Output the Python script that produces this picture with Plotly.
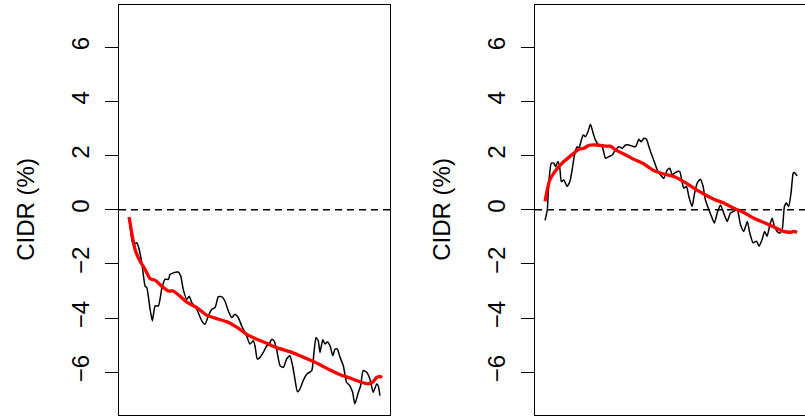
import plotly.graph_objects as go

# ---------------- data (time as % of sample period, CIDR in %) ----------------
left_t = [0, 1.1, 1.7, 3.1, 3.7, 5.1, 6.4, 7.1, 8.4, 9.3, 10.4, 11.7, 13.0, 14.3, 15.7,
          16.3, 17.6, 19.6, 20.6, 21.6, 23.0, 24.0, 25.0, 27.0, 29.0, 30.3, 31.6, 32.9,
          34.3, 35.6, 36.9, 38.2, 39.6, 40.9, 42.2, 43.5, 44.9, 46.2, 47.1, 48.2, 49.5,
          50.2, 51.1, 52.2, 53.5, 54.9, 55.8, 56.9, 57.8, 58.8, 60.2, 61.5, 62.8, 64.1,
          65.2, 66.1, 67.1, 68.1, 69.4, 70.8, 72.8, 73.7, 74.5, 75.4, 76.1, 77.2, 78.1,
          79.0, 80.1, 81.2, 82.1, 83.0, 84.1, 85.4, 86.7, 88.0, 89.1, 90.0, 91.4, 92.3,
          93.3, 94.7, 96.0, 97.3, 98.7, 99.3, 100]
left_cidr = [-0.3, -1.1, -1.29, -1.22, -1.35, -1.96, -2.82, -2.88, -3.68, -4.1, -3.55,
             -3.55, -2.94, -2.57, -2.57, -2.39, -2.33, -2.3, -2.45, -2.94, -3.31, -3.19,
             -3.43, -3.68, -4.1, -4.23, -3.92, -3.68, -3.61, -3.21, -3.21, -3.37, -3.74,
             -3.98, -3.86, -3.98, -4.29, -4.53, -4.72, -4.96, -4.84, -5.02, -5.51, -5.45,
             -5.27, -5.02, -4.96, -4.78, -4.84, -5.15, -5.76, -5.82, -5.51, -5.39, -5.76,
             -6.25, -6.72, -6.62, -6.31, -6.07, -5.94, -5.27, -4.72, -4.84, -5.27, -4.8,
             -4.96, -4.88, -5.02, -5.39, -5.15, -5.15, -5.45, -5.76, -6.37, -6.5, -6.74,
             -7.17, -6.74, -6.5, -5.94, -6.0, -6.25, -6.74, -6.43, -6.5, -6.86]
left_trend_t = [0, 1.1, 2.4, 4.4, 6.4, 8.4, 10.4, 13.0, 15.7, 17.6, 20.3, 23.0, 27.0, 31.0,
                34.9, 38.9, 42.9, 46.9, 50.9, 54.9, 58.8, 64.1, 68.1, 72.1, 76.1, 80.1,
                84.1, 88.0, 92.0, 95.3, 97.3, 98.7, 100, 100.7]
left_trend = [-0.27, -0.86, -1.47, -1.9, -2.2, -2.55, -2.6, -2.82, -3.0, -3.0, -3.19, -3.41,
              -3.61, -3.9, -4.02, -4.13, -4.33, -4.6, -4.78, -4.93, -5.09, -5.24, -5.39,
              -5.55, -5.72, -5.92, -6.09, -6.21, -6.35, -6.43, -6.35, -6.19, -6.15, -6.21]

right_t = [0, 0.9, 1.5, 2.5, 3.5, 4.2, 5.1, 5.9, 6.5, 7.5, 8.8, 9.9, 10.8, 11.5, 12.2, 12.8,
           13.5, 14.1, 15.2, 16.1, 17.1, 18.1, 19.2, 20.1, 21.4, 22.8, 24.1, 25.4, 26.8,
           28.1, 29.4, 30.8, 32.1, 33.4, 34.7, 36.1, 37.4, 38.3, 39.4, 40.4, 41.4, 42.3,
           43.3, 44.7, 46.0, 47.3, 48.7, 49.7, 50.7, 51.6, 52.7, 53.7, 54.7, 55.3, 56.4,
           57.3, 58.6, 59.6, 60.6, 61.9, 63.0, 63.9, 65.3, 66.6, 67.5, 68.6, 69.9, 71.2,
           72.6, 73.9, 75.2, 76.6, 77.9, 79.2, 80.6, 81.6, 82.9, 84.3, 85.3, 86.5, 87.5,
           88.5, 89.6, 90.5, 91.4, 92.5, 93.5, 94.5, 95.4, 96.2, 97.1, 98.1, 98.9, 99.4, 100.5]
right_cidr = [-0.39, 0, 0.98, 1.72, 1.72, 1.59, 1.78, 1.53, 1.04, 1.1, 0.86, 1.04, 1.47, 1.9,
              2.21, 2.33, 2.27, 2.45, 2.76, 2.7, 2.88, 3.16, 2.82, 2.57, 2.39, 2.33, 1.9,
              1.96, 2.02, 2.21, 2.33, 2.27, 2.39, 2.39, 2.35, 2.33, 2.6, 2.51, 2.64, 2.6,
              2.33, 2.08, 1.84, 1.47, 1.29, 1.16, 1.47, 1.53, 1.29, 1.35, 1.41, 1.41, 0.98,
              0.8, 0.86, 0.49, 0.12, 0.61, 0.98, 1.13, 0.86, 0.37, 0, -0.31, -0.49, -0.12,
              0.18, -0.12, -0.43, -0.12, -0.06, 0, -0.55, -0.8, -0.43, -0.86, -1.22, -1.16,
              -1.35, -1.1, -0.8, -0.98, -0.55, -0.31, -0.61, -0.8, -0.86, -0.74, 0.12, 0.25,
              0.12, 0.67, 1.35, 1.37, 1.25]
right_trend_t = [0, 0.9, 1.9, 3.5, 5.5, 7.5, 10.2, 13.5, 15.5, 17.5, 20.8, 24.1, 26.1, 28.1,
                 31.4, 35.4, 39.4, 43.3, 47.3, 51.3, 55.3, 59.3, 63.3, 67.3, 71.2, 75.2,
                 79.2, 83.2, 87.2, 91.2, 95.1, 97.8, 99.1, 100.5]
right_trend = [0.31, 0.74, 1.1, 1.35, 1.59, 1.78, 1.99, 2.23, 2.27, 2.38, 2.39, 2.35, 2.35,
               2.21, 2.06, 1.86, 1.69, 1.45, 1.32, 1.23, 1.04, 0.8, 0.58, 0.39, 0.25, 0.06,
               -0.1, -0.31, -0.47, -0.64, -0.8, -0.83, -0.8, -0.83]

y_ticks = [-6, -4, -2, 0, 2, 4, 6]
y_title = "CIDR (%)"

W, H = 805, 417
FONT = "Liberation Sans, Arial, sans-serif"
FS = 24

fig = go.Figure()
fig.add_trace(go.Scatter(x=left_t, y=left_cidr, mode="lines",
                         line=dict(color="black", width=1.5, shape="spline", smoothing=0.5),
                         xaxis="x", yaxis="y", showlegend=False))
fig.add_trace(go.Scatter(x=left_trend_t, y=left_trend, mode="lines",
                         line=dict(color="#ff0000", width=3.3, shape="spline", smoothing=0.4),
                         xaxis="x", yaxis="y", showlegend=False))
fig.add_trace(go.Scatter(x=right_t, y=right_cidr, mode="lines",
                         line=dict(color="black", width=1.5, shape="spline", smoothing=0.5),
                         xaxis="x2", yaxis="y2", showlegend=False))
fig.add_trace(go.Scatter(x=right_trend_t, y=right_trend, mode="lines",
                         line=dict(color="#ff0000", width=3.3, shape="spline", smoothing=0.4),
                         xaxis="x2", yaxis="y2", showlegend=False))

# zero reference lines
for xr, yr in (("x domain", "y"), ("x2 domain", "y2")):
    fig.add_shape(type="line", xref=xr, yref=yr, x0=0, x1=1, y0=0, y1=0,
                  line=dict(color="black", width=1.4, dash="7px,5px"), layer="below")

ydom = [1 - 414.5 / H, 1 - 5 / H]
yrange = [-7.56, 7.56]
yaxis_common = dict(range=yrange, tickvals=y_ticks, ticks="outside", ticklen=13,
                    tickwidth=1.3, tickcolor="black", tickangle=-90,
                    tickfont=dict(family=FONT, size=FS, color="black"),
                    showline=True, linecolor="black", linewidth=1.4,
                    showgrid=False, zeroline=False, domain=ydom, fixedrange=True,
                    ticklabelstandoff=6)
xaxis_common = dict(showticklabels=False, ticks="", showgrid=False, zeroline=False,
                    showline=True, linecolor="black", linewidth=1.4, mirror=True)

fig.update_layout(
    width=W, height=H,
    margin=dict(l=0, r=0, t=0, b=0),
    paper_bgcolor="white", plot_bgcolor="white",
    xaxis=dict(xaxis_common, domain=[119 / W, 390 / W], range=[-4, 104], anchor="y"),
    yaxis=dict(yaxis_common, anchor="x", mirror=True),
    xaxis2=dict(xaxis_common, domain=[535 / W, 1.0], range=[-4, 103.6], anchor="y2"),
    yaxis2=dict(yaxis_common, anchor="x2", mirror=False),
)

for xc in (26, 442):
    fig.add_annotation(text=y_title, xref="paper", yref="paper", x=xc / W, y=1 - 209.75 / H,
                       xanchor="center", yanchor="middle", textangle=-90, showarrow=False,
                       font=dict(family=FONT, size=FS, color="black"))

fig.write_html("out.html")
